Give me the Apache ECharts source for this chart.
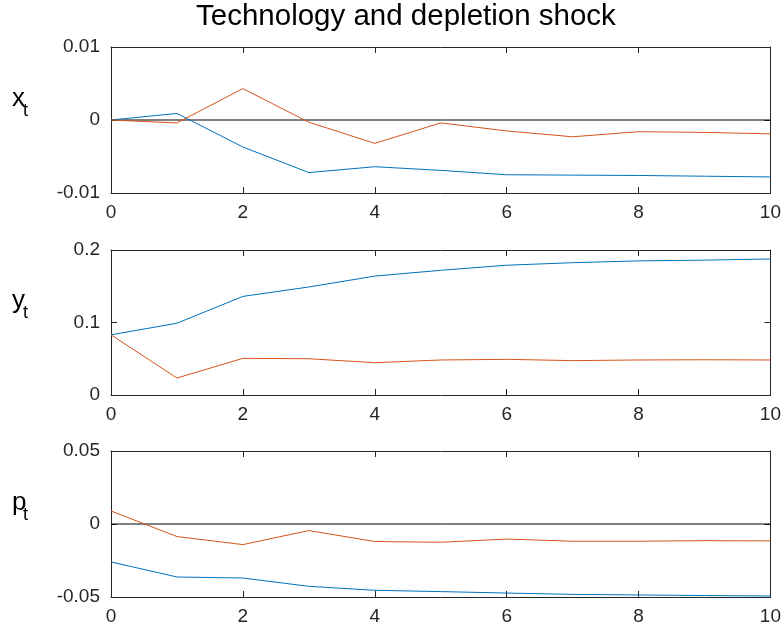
<!DOCTYPE html>
<html><head><meta charset="utf-8">
<script src="https://cdn.jsdelivr.net/npm/echarts@6/dist/echarts.min.js"></script>
<style>html,body{margin:0;padding:0;background:#fff}#c{width:784px;height:637px}</style>
</head><body><div id="c"></div>
<script>
const periods = [0,1,2,3,4,5,6,7,8,9,10];
const xBlue   = [0, 0.0009, -0.0037, -0.0072, -0.0064, -0.0069, -0.0075, -0.00755, -0.0076, -0.0077, -0.0078];
const xOrange = [0, -0.0004, 0.0043, -0.0003, -0.0032, -0.0004, -0.0015, -0.0023, -0.0016, -0.0017, -0.0019];
const yBlue   = [0.083, 0.099, 0.136, 0.149, 0.164, 0.172, 0.179, 0.1825, 0.185, 0.186, 0.1876];
const yOrange = [0.083, 0.0234, 0.0506, 0.050, 0.0446, 0.0483, 0.0492, 0.0474, 0.0483, 0.0486, 0.0483];
const pBlue   = [-0.026, -0.0363, -0.037, -0.0427, -0.0454, -0.0463, -0.0473, -0.0482, -0.0486, -0.049, -0.0493];
const pOrange = [0.0089, -0.0086, -0.0141, -0.0045, -0.012, -0.0125, -0.0103, -0.0118, -0.0118, -0.0114, -0.0116];
const titleText = 'Technology and depletion shock';
const panelLabels = [['x','t'],['y','t'],['p','t']];
const yTicks = [[-0.01, 0.01, 0.01], [0, 0.2, 0.1], [-0.05, 0.05, 0.05]];

const blue = '#0072BD', orange = '#D95319', axisCol = '#262626';
const FONT = 'Liberation Sans, Arial, sans-serif';
const grids = [
  {left:111, right:12, top:47, height:146},
  {left:111, right:12, top:250, height:145},
  {left:111, right:12, top:451, height:146}
];
const pair = a => periods.map((p,i)=>[p,a[i]]);
const xAxes = [], yAxes = [], series = [];
grids.forEach((g,i)=>{
  const lineStyle = {color:axisCol, width:1};
  xAxes.push({type:'value', gridIndex:i, min:0, max:10, interval:2, position:'bottom',
    axisLine:{show:true,onZero:false,lineStyle}, axisTick:{show:true,inside:true,length:6,lineStyle},
    axisLabel:{color:'#262626', fontSize:19, fontFamily:FONT, margin:10}, splitLine:{show:false}});
  xAxes.push({type:'value', gridIndex:i, min:0, max:10, interval:2, position:'top',
    axisLine:{show:true,onZero:false,lineStyle}, axisTick:{show:true,inside:true,length:6,lineStyle},
    axisLabel:{show:false}, splitLine:{show:false}});
  const [mn,mx,iv] = yTicks[i];
  yAxes.push({type:'value', gridIndex:i, min:mn, max:mx, interval:iv, position:'left',
    axisLine:{show:true,onZero:false,lineStyle}, axisTick:{show:true,inside:true,length:6,lineStyle},
    axisLabel:{color:'#262626', fontSize:19, fontFamily:FONT, margin:11, formatter:v=>String(+v.toFixed(4))}, splitLine:{show:false}});
  yAxes.push({type:'value', gridIndex:i, min:mn, max:mx, interval:iv, position:'right',
    axisLine:{show:true,onZero:false,lineStyle}, axisTick:{show:true,inside:true,length:6,lineStyle},
    axisLabel:{show:false}, splitLine:{show:false}});
});
const panels = [[xBlue,xOrange,true],[yBlue,yOrange,false],[pBlue,pOrange,true]];
panels.forEach(([b,o,zero],i)=>{
  if (zero) series.push({type:'line', xAxisIndex:2*i, yAxisIndex:2*i, data:[[0,0],[10,0]], symbol:'none',
    lineStyle:{color:'#000',width:1}, silent:true, z:1});
  series.push({type:'line', xAxisIndex:2*i, yAxisIndex:2*i, data:pair(b), symbol:'none', lineStyle:{color:blue,width:1}, z:2});
  series.push({type:'line', xAxisIndex:2*i, yAxisIndex:2*i, data:pair(o), symbol:'none', lineStyle:{color:orange,width:1}, z:3});
});
const graphics = [];
const topY = [86, 288, 490];
panelLabels.forEach(([m,s],i)=>{
  graphics.push({type:'text', x:12, y:topY[i], style:{text:m, font:'26px '+FONT, fill:'#000'}});
  graphics.push({type:'text', x:23, y:topY[i]+16, style:{text:s, font:'18px '+FONT, fill:'#000'}});
});
graphics.push({type:'text', x:196, y:2, style:{text:titleText, font:'29.5px '+FONT, fill:'#000'}});
const chart = echarts.init(document.getElementById('c'), null, {renderer:'canvas'});
chart.setOption({
  animation:false,
  backgroundColor:'#fff',
  grid:grids, xAxis:xAxes, yAxis:yAxes, series, graphic:graphics
});
</script></body></html>
